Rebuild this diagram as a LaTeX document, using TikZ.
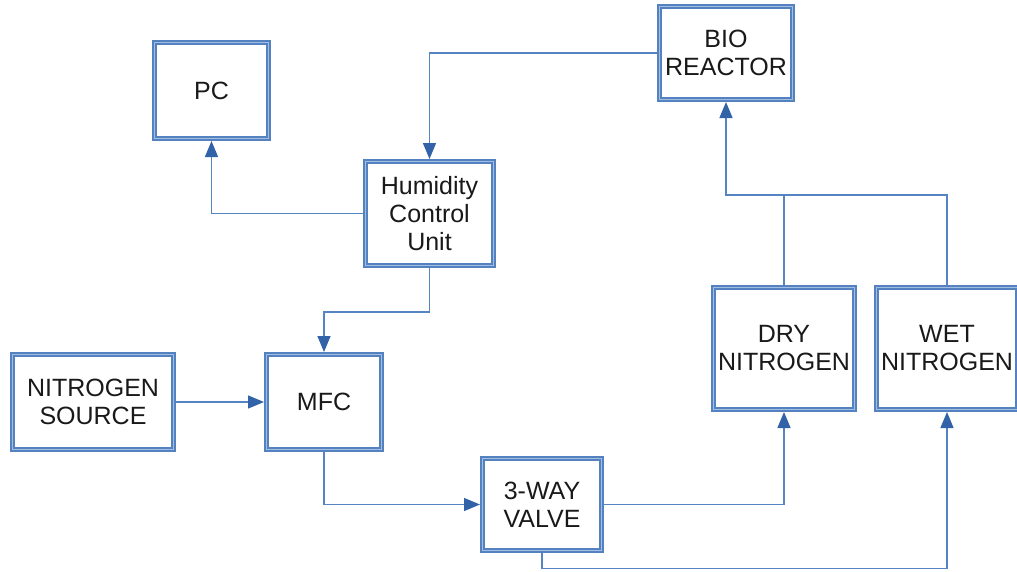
\documentclass[tikz,border=0pt]{standalone}
\usepackage{fontspec}
\setmainfont{Liberation Sans}
\usepackage{tikz}
\usetikzlibrary{arrows.meta}
\definecolor{boxblue}{RGB}{84,130,192}
\definecolor{boxlight}{RGB}{160,190,226}
\definecolor{lineblue}{RGB}{86,132,194}
\definecolor{tipblue}{RGB}{50,98,168}
\tikzstyle{block} = [rectangle, draw=boxblue, double=boxlight, line width=2pt,
    double distance=1.1pt, outer sep=2.5pt, fill=white, align=center, text=black!90,
    font=\fontsize{25}{28}\selectfont]
\tikzstyle{arrow} = [draw=lineblue, line width=1.3pt,
    -{Triangle[length=16pt,width=13pt,color=tipblue,fill=tipblue]}]
\tikzstyle{link} = [draw=lineblue, line width=1.3pt]

\begin{document}
\begin{tikzpicture}[x=1pt, y=-1pt]
  \useasboundingbox[fill=white] (0,0) rectangle (1017,571);
  \node (pc)    [block, minimum width=114pt, minimum height=96pt]  at (211.5,90.5) {PC};
  \node (bio)   [block, minimum width=133pt, minimum height=93pt]  at (726,53) {BIO\\REACTOR};
  \node (hcu)   [block, minimum width=128pt, minimum height=104pt] at (429.5,213.5) {Humidity\\Control\\Unit};
  \node (src)   [block, minimum width=161pt, minimum height=95pt]  at (93,402) {NITROGEN\\SOURCE};
  \node (mfc)   [block, minimum width=115pt, minimum height=95pt]  at (324,402) {MFC};
  \node (valve) [block, minimum width=119pt, minimum height=92pt]  at (542,504.5) {3-WAY\\VALVE};
  \node (dry)   [block, minimum width=141pt, minimum height=122pt] at (784,348.5) {DRY\\NITROGEN};
  \node (wet)   [block, minimum width=141pt, minimum height=122pt] at (947,348.5) {WET\\NITROGEN};
  \coordinate (merge) at (784,195);

  \draw[arrow] (bio.west)   -| (hcu.north);
  \draw[arrow] (hcu.west)   -| (pc.south);
  \draw[arrow] (hcu.south)  -- ++(0,44) -| (mfc.north);
  \draw[arrow] (src.east)   -- (mfc.west);
  \draw[arrow] (mfc.south)  |- (valve.west);
  \draw[arrow] (valve.east) -| (dry.south);
  \draw[arrow] (valve.south) -- ++(0,15.5) -| (wet.south);
  \draw[link]  (wet.north)  |- (merge);
  \draw[arrow] (dry.north)  -- (merge) -| (bio.south);
\end{tikzpicture}
\end{document}
